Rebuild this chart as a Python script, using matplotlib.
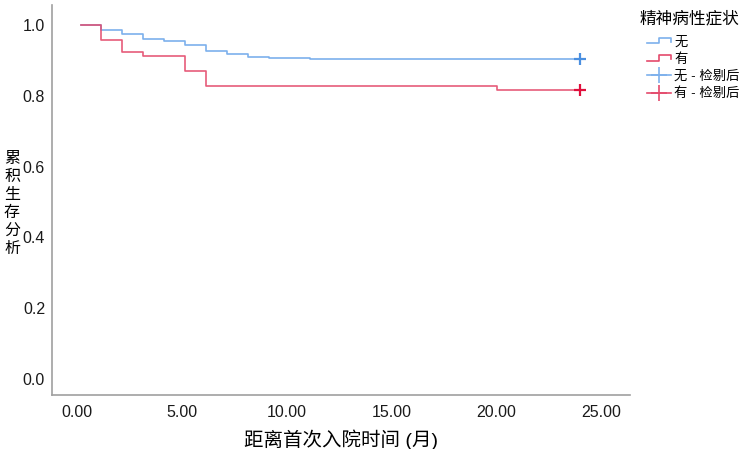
import matplotlib
matplotlib.use('Agg')
import matplotlib.pyplot as plt
from matplotlib.lines import Line2D
from matplotlib.legend_handler import HandlerBase

plt.rcParams['font.family'] = ['Liberation Sans', 'Noto Sans CJK SC']

# Kaplan-Meier 曲线 (时间: 月, 累积生存)
blue_t = [0.17, 1.15, 2.15, 3.15, 4.15, 5.15, 6.15, 7.15, 8.15, 9.15, 11.1, 24.0]
blue_s = [1.0, 0.986, 0.973, 0.959, 0.955, 0.944, 0.927, 0.918, 0.910, 0.907, 0.904, 0.904]
red_t = [0.17, 1.15, 2.15, 3.15, 5.15, 6.15, 20.05, 24.0]
red_s = [1.0, 0.956, 0.924, 0.913, 0.870, 0.828, 0.816, 0.816]
# 检剔点
cens_t = [24.0, 24.0]
cens_s = [0.904, 0.816]

labels = ['无', '有', '无 - 检剔后', '有 - 检剔后']
xticks = [0, 5, 10, 15, 20, 25]
yticks = [0.0, 0.2, 0.4, 0.6, 0.8, 1.0]

c_blue = '#7DB0EC'
c_red = '#E44A6C'
c_blue_m = '#4A8FE0'
c_red_m = '#E0103C'


class StepHandler(HandlerBase):
    # 图例里画一个小台阶
    def create_artists(self, legend, orig_handle, xdescent, ydescent,
                       width, height, fontsize, trans):
        x0 = -xdescent
        y0 = -ydescent
        xs = [x0, x0 + width * 0.5, x0 + width * 0.5, x0 + width, x0 + width]
        ys = [y0 + height * 0.2, y0 + height * 0.2, y0 + height * 0.8,
              y0 + height * 0.8, y0 + height * 0.4]
        ln = Line2D(xs, ys, color=orig_handle.get_color(), lw=orig_handle.get_linewidth(),
                    transform=trans)
        return [ln]


fig = plt.figure(figsize=(7.46, 4.49), dpi=100)
ax = fig.add_axes([52 / 746, 54 / 449, 578 / 746, 390 / 449])

l1, = ax.step(blue_t, blue_s, where='post', color=c_blue, lw=1.2)
l2, = ax.step(red_t, red_s, where='post', color=c_red, lw=1.2, alpha=0.9)
m1, = ax.plot(cens_t[0], cens_s[0], '+', color=c_blue_m, ms=9, mew=1.6)
m2, = ax.plot(cens_t[1], cens_s[1], '+', color=c_red_m, ms=9, mew=1.6)

ax.set_xlim(-1.21, 26.4)
ax.set_ylim(-0.045, 1.056)
ax.set_xticks(xticks)
ax.set_xticklabels(['%.2f' % v for v in xticks])
ax.set_yticks(yticks)
ax.set_yticklabels(['%.1f' % v for v in yticks])
ax.tick_params(length=0, labelsize=11.5, colors='#1a1a1a')
ax.tick_params(axis='x', pad=7)
ax.tick_params(axis='y', pad=5)
for s in ['top', 'right']:
    ax.spines[s].set_visible(False)
for s in ['left', 'bottom']:
    ax.spines[s].set_color('#a0a0a0')
    ax.spines[s].set_linewidth(1.2)

ax.set_xlabel('距离首次入院时间 (月)', fontsize=14, labelpad=7)
fig.text(12 / 746, 1 - 204 / 449, '\n'.join('累积生存分析'), fontsize=11.5,
         ha='center', va='center', linespacing=1.25)

# 图例标题单独放
fig.text(640 / 746, 1 - 18 / 449, '精神病性症状', fontsize=12, ha='left', va='center')

h3 = Line2D([], [], color=c_blue, lw=1.2, marker='+', ms=12, mew=1.2, markeredgecolor=c_blue)
h4 = Line2D([], [], color=c_red, lw=1.2, marker='+', ms=12, mew=1.2, markeredgecolor=c_red)
leg = fig.legend([l1, l2, h3, h4], labels, loc='upper left',
                 bbox_to_anchor=(647 / 746, 1 - 36 / 449), frameon=False,
                 fontsize=9.6, handlelength=1.8, handletextpad=0.23,
                 labelspacing=0.36, borderpad=0, borderaxespad=0,
                 handler_map={l1: StepHandler(), l2: StepHandler()})

fig.savefig('out.png', dpi=100)
